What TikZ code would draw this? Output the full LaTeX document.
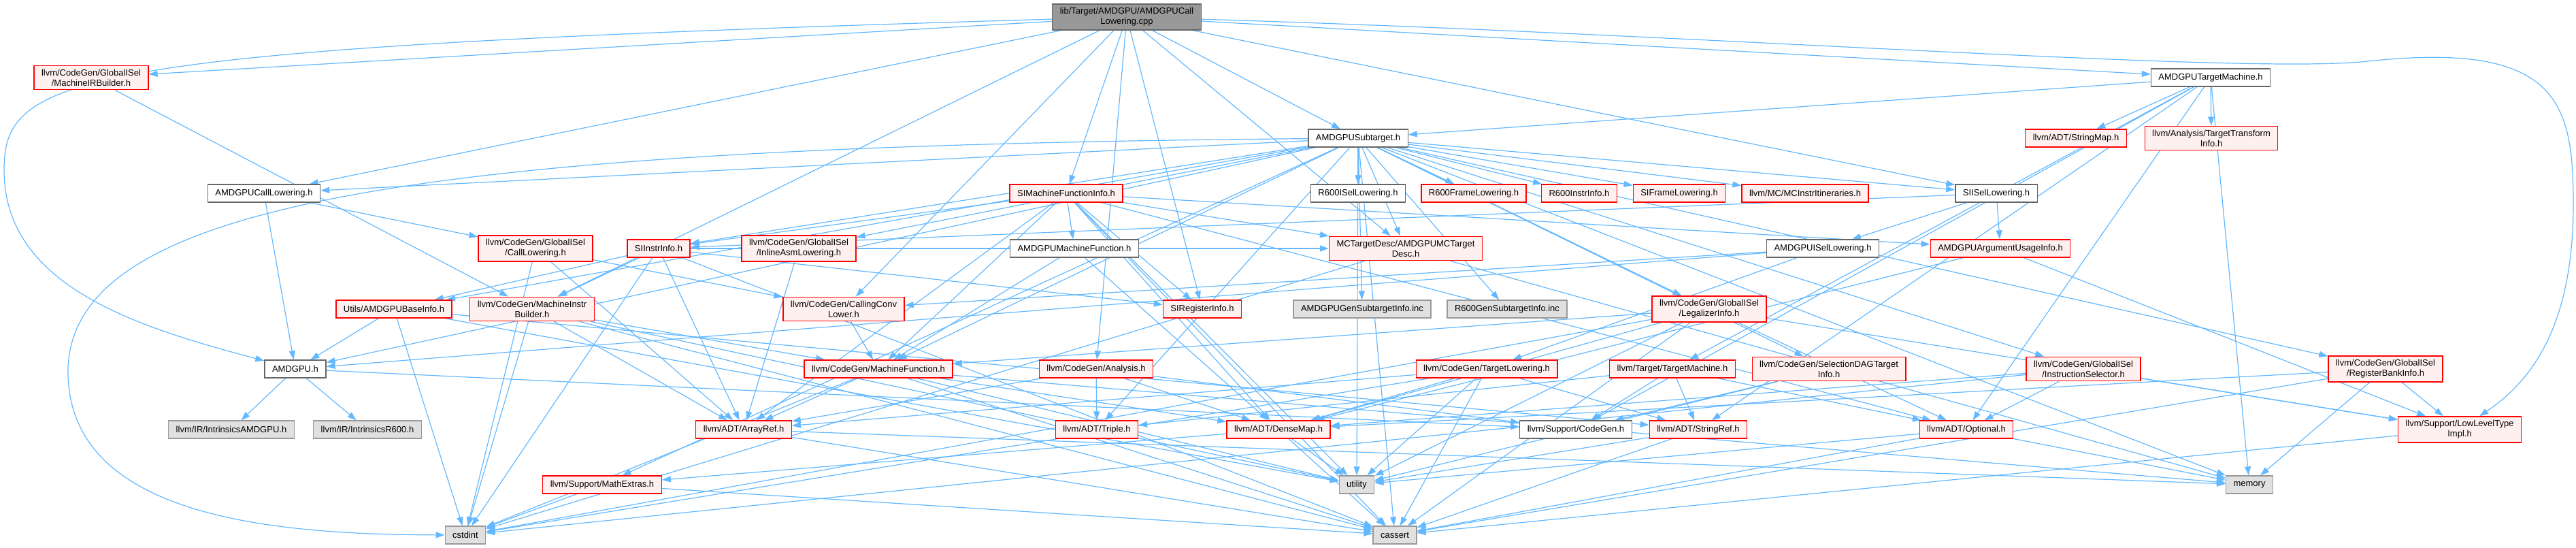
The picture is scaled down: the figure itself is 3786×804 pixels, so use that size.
\documentclass[tikz,border=0pt]{standalone}
\usepackage{fontspec}
\setmainfont{Liberation Sans}
\definecolor{DOXedge}{HTML}{63B8FF}
\definecolor{DOXred}{HTML}{FF0000}
\definecolor{DOXpink}{HTML}{FFF0F0}
\definecolor{DOXdark}{HTML}{666666}
\definecolor{DOXroot}{HTML}{999999}
\definecolor{DOXsys}{HTML}{E0E0E0}
\definecolor{DOXsysline}{HTML}{999999}
\usetikzlibrary{arrows.meta, backgrounds}

\tikzset{
  hdr/.style={draw, line width=1.3pt, inner xsep=11pt, inner ysep=5.5pt,
    minimum height=26pt, align=center, font=\fontsize{13}{15}\selectfont},
  rootfile/.style={hdr, fill=DOXroot, draw=DOXdark},
  plainhdr/.style={hdr, fill=white, draw=DOXdark},
  redhdr/.style={hdr, fill=DOXpink, draw=DOXred},
  syshdr/.style={hdr, fill=DOXsys, draw=DOXsysline},
  incl/.style={draw=DOXedge, line width=1.2pt, -{Triangle[length=13pt,width=9pt]}}
}

\begin{document}
\begin{tikzpicture}[x=1pt, y=-1pt]
  \useasboundingbox (0,0) rectangle (3786,804);
  % Source file
  \node[rootfile] (root) at (1656,25) {lib/Target/AMDGPU/AMDGPUCall\\Lowering.cpp};
  % Rank 1-2
  \node[redhdr]   (mirb) at (134,114) {llvm/CodeGen/GlobalISel\\/MachineIRBuilder.h};
  \node[plainhdr] (tm) at (3249,114) {AMDGPUTargetMachine.h};
  \node[plainhdr] (sub) at (1996,203) {AMDGPUSubtarget.h};
  \node[redhdr]   (smap) at (3051,203) {llvm/ADT/StringMap.h};
  \node[redhdr]   (tti) at (3250,203) {llvm/Analysis/TargetTransform\\Info.h};
  % Rank 3
  \node[plainhdr] (cl) at (388,284) {AMDGPUCallLowering.h};
  \node[redhdr]   (simfi) at (1567,284) {SIMachineFunctionInfo.h};
  \node[plainhdr] (r6isel) at (1996,284) {R600ISelLowering.h};
  \node[redhdr]   (r6fl) at (2166,284) {R600FrameLowering.h};
  \node[redhdr]   (r6ii) at (2321,284) {R600InstrInfo.h};
  \node[redhdr]   (sifl) at (2468,284) {SIFrameLowering.h};
  \node[redhdr]   (mcii) at (2653,284) {llvm/MC/MCInstrItineraries.h};
  \node[plainhdr] (siisel) at (2934,284) {SIISelLowering.h};
  % Rank 4
  \node[redhdr]   (gcl) at (787,365) {llvm/CodeGen/GlobalISel\\/CallLowering.h};
  \node[redhdr]   (siii) at (968,365) {SIInstrInfo.h};
  \node[redhdr]   (iasm) at (1174,365) {llvm/CodeGen/GlobalISel\\/InlineAsmLowering.h};
  \node[plainhdr] (mfun) at (1579,365) {AMDGPUMachineFunction.h};
  \node[redhdr]   (mctd) at (2066,365) {MCTargetDesc/AMDGPUMCTarget\\Desc.h};
  \node[plainhdr] (aisel) at (2679,365) {AMDGPUISelLowering.h};
  \node[redhdr]   (argui) at (2940,365) {AMDGPUArgumentUsageInfo.h};
  % Rank 5
  \node[redhdr]   (binfo) at (579,454) {Utils/AMDGPUBaseInfo.h};
  \node[redhdr]   (mib) at (782,454) {llvm/CodeGen/MachineInstr\\Builder.h};
  \node[redhdr]   (ccl) at (1240,454) {llvm/CodeGen/CallingConv\\Lower.h};
  \node[redhdr]   (sireg) at (1767,454) {SIRegisterInfo.h};
  \node[syshdr]   (gensub) at (2002,454) {AMDGPUGenSubtargetInfo.inc};
  \node[syshdr]   (r6gen) at (2215,454) {R600GenSubtargetInfo.inc};
  \node[redhdr]   (legal) at (2512,454) {llvm/CodeGen/GlobalISel\\/LegalizerInfo.h};
  % Rank 6
  \node[plainhdr] (amdgpu) at (434,542) {AMDGPU.h};
  \node[redhdr]   (mf) at (1291,542) {llvm/CodeGen/MachineFunction.h};
  \node[redhdr]   (ana) at (1611,542) {llvm/CodeGen/Analysis.h};
  \node[redhdr]   (tl) at (2185,542) {llvm/CodeGen/TargetLowering.h};
  \node[redhdr]   (ttm) at (2458,542) {llvm/Target/TargetMachine.h};
  \node[redhdr]   (sdag) at (2688,542) {llvm/CodeGen/SelectionDAGTarget\\Info.h};
  \node[redhdr]   (isel) at (3062,542) {llvm/CodeGen/GlobalISel\\/InstructionSelector.h};
  \node[redhdr]   (rbi) at (3506,542) {llvm/CodeGen/GlobalISel\\/RegisterBankInfo.h};
  % Rank 7
  \node[syshdr]   (intr) at (340,631) {llvm/IR/IntrinsicsAMDGPU.h};
  \node[syshdr]   (r600) at (540,631) {llvm/IR/IntrinsicsR600.h};
  \node[redhdr]   (aref) at (1093,631) {llvm/ADT/ArrayRef.h};
  \node[redhdr]   (triple) at (1612,631) {llvm/ADT/Triple.h};
  \node[redhdr]   (dmap) at (1879,631) {llvm/ADT/DenseMap.h};
  \node[plainhdr] (cg) at (2316,631) {llvm/Support/CodeGen.h};
  \node[redhdr]   (sref) at (2496,631) {llvm/ADT/StringRef.h};
  \node[redhdr]   (opt) at (2890,631) {llvm/ADT/Optional.h};
  \node[redhdr]   (llt) at (3615,631) {llvm/Support/LowLevelType\\Impl.h};
  % Rank 8-9
  \node[redhdr]   (mext) at (885,712) {llvm/Support/MathExtras.h};
  \node[syshdr]   (util) at (1994,712) {utility};
  \node[syshdr]   (memory) at (3306,712) {memory};
  \node[syshdr]   (cstdint) at (684,786) {cstdint};
  \node[syshdr]   (cassert) at (2050,786) {cassert};

  \begin{scope}[on background layer]
    % Includes of the source file
    \foreach \dst in {mirb,cl,sub,tm,simfi,sireg,ccl,ana,mib,siisel,mctd}
      \draw[incl] (root) -- (\dst);
    \draw[incl] (root) .. controls (100,70) and (6,110) .. (6,250)
      .. controls (6,420) and (200,480) .. (amdgpu);
    \draw[incl] (root) .. controls (2500,50) and (3300,110) .. (3480,90)
      .. controls (3760,60) and (3782,150) .. (3782,300)
      .. controls (3782,480) and (3720,560) .. (llt);
    % AMDGPUTargetMachine.h
    \foreach \dst in {sub,smap,tti,ttm,opt,sref,cg,memory}
      \draw[incl] (tm) -- (\dst);
    % AMDGPUSubtarget.h
    \foreach \dst in {cl,siii,iasm,binfo,mf,r6isel,r6fl,r6ii,sifl,mcii,siisel,mctd,
        gensub,r6gen,legal,isel,rbi,sdag,triple,mext,util,cassert,memory,amdgpu}
      \draw[incl] (sub) -- (\dst);
    \draw[incl] (sub) .. controls (600,215) and (110,300) .. (100,540)
      .. controls (95,760) and (400,785) .. (cstdint);
    % Target headers
    \foreach \src/\dst in {cl/amdgpu,cl/gcl,
        simfi/siii,simfi/mfun,simfi/mctd,simfi/argui,simfi/sireg,simfi/aref,
        simfi/dmap,simfi/opt,simfi/cassert,simfi/util,simfi/mf,
        mfun/dmap,mfun/mf,
        siii/binfo,siii/mib,siii/sireg,siii/aref,siii/cassert,siii/cstdint,siii/mctd,
        binfo/amdgpu,binfo/sref,binfo/cstdint,binfo/util,
        aisel/ccl,aisel/tl,aisel/amdgpu,
        siisel/aisel,siisel/argui,siisel/siii,
        argui/dmap,argui/llt,
        mctd/memory,mctd/cstdint,
        amdgpu/intr,amdgpu/r600,amdgpu/cg}
      \draw[incl] (\src) -- (\dst);
    % LLVM headers
    \foreach \src/\dst in {mirb/mib,gcl/aref,gcl/ccl,gcl/cstdint,iasm/aref,
        mib/aref,mib/mf,mib/cassert,mib/cstdint,mib/util,ccl/mf,
        mf/aref,mf/dmap,mf/cassert,mf/cstdint,mf/memory,mf/util,
        ana/aref,ana/triple,ana/dmap,ana/cg,
        aref/cassert,aref/memory,
        dmap/mext,dmap/util,dmap/cassert,
        mext/cstdint,mext/cassert,
        tl/aref,tl/dmap,tl/sref,tl/cassert,tl/cstdint,tl/util,
        ttm/sref,ttm/cg,ttm/triple,ttm/opt,
        sdag/cg,sdag/util,
        legal/dmap,legal/opt,legal/mf,legal/llt,legal/cassert,legal/cstdint,legal/util,
        isel/dmap,isel/opt,isel/llt,isel/cstdint,
        rbi/dmap,rbi/llt,rbi/cassert,rbi/memory,
        llt/cassert,opt/cassert,opt/memory,opt/util,sref/cassert,sref/util}
      \draw[incl] (\src) -- (\dst);
  \end{scope}
\end{tikzpicture}
\end{document}
